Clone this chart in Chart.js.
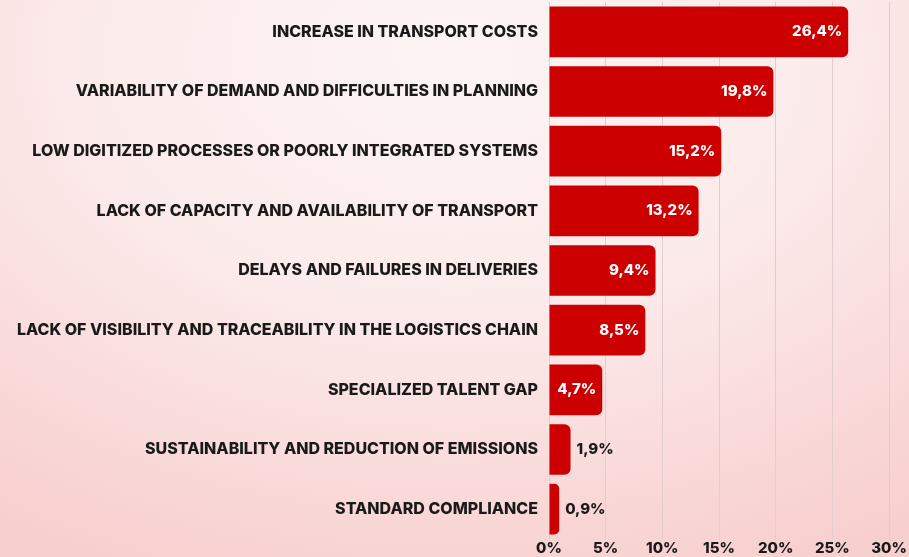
<!DOCTYPE html>
<html>
<head>
<meta charset="utf-8">
<script src="https://cdn.jsdelivr.net/npm/chart.js@4"></script>
<style>
  html, body { margin: 0; padding: 0; }
  body {
    width: 909px; height: 557px; overflow: hidden;
    background: radial-gradient(ellipse 90% 100% at 50% 10%, #fdf4f4 0%, #fcebeb 45%, #f9d6d6 85%, #f8cfcf 100%);
  }
  #wrap { width: 909px; height: 557px; position: relative; }
</style>
</head>
<body>
<div id="wrap"><canvas id="myChart"></canvas></div>
<script>
const categories = [
  'INCREASE IN TRANSPORT COSTS',
  'VARIABILITY OF DEMAND AND DIFFICULTIES IN PLANNING',
  'LOW DIGITIZED PROCESSES OR POORLY INTEGRATED SYSTEMS',
  'LACK OF CAPACITY AND AVAILABILITY OF TRANSPORT',
  'DELAYS AND FAILURES IN DELIVERIES',
  'LACK OF VISIBILITY AND TRACEABILITY IN THE LOGISTICS CHAIN',
  'SPECIALIZED TALENT GAP',
  'SUSTAINABILITY AND REDUCTION OF EMISSIONS',
  'STANDARD COMPLIANCE'
];
const shares = [26.4, 19.8, 15.2, 13.2, 9.4, 8.5, 4.7, 1.9, 0.9];
const xTicks = [0, 5, 10, 15, 20, 25, 30];

const fontFamily = 'Inter, "Open Sans", sans-serif';

// value labels: white inside long bars, dark beside short ones
const barLabels = {
  id: 'barLabels',
  afterDatasetsDraw(chart) {
    const ctx = chart.ctx;
    const meta = chart.getDatasetMeta(0);
    ctx.save();
    ctx.font = '800 15px ' + fontFamily;
    ctx.textBaseline = 'middle';
    meta.data.forEach((bar, i) => {
      const v = shares[i];
      const txt = v.toFixed(1).replace('.', ',') + '%';
      if (v >= 4) {
        ctx.fillStyle = '#ffffff';
        ctx.textAlign = 'right';
        ctx.fillText(txt, bar.x - 6, bar.y);
      } else {
        ctx.fillStyle = '#1a1a1a';
        ctx.textAlign = 'left';
        ctx.fillText(txt, bar.x + 6, bar.y);
      }
    });
    ctx.restore();
  }
};

const GraphShares = document.getElementById('myChart');
new Chart(GraphShares, {
  type: 'bar',
  data: {
    labels: categories,
    datasets: [{
      data: shares,
      backgroundColor: '#cc0000',
      borderRadius: 6,
      barPercentage: 0.85,
      categoryPercentage: 1
    }]
  },
  options: {
    indexAxis: 'y',
    responsive: true,
    maintainAspectRatio: false,
    animation: false,
    layout: { padding: { top: 2, right: 20, bottom: 0, left: 0 } },
    plugins: {
      legend: { display: false },
      tooltip: { enabled: false }
    },
    scales: {
      x: {
        min: 0,
        max: 30,
        afterBuildTicks: (scale) => { scale.ticks = xTicks.map(v => ({ value: v })); },
        grid: { color: '#e2cdce', lineWidth: 1, drawTicks: false },
        border: { display: false },
        ticks: {
          padding: 0,
          color: '#1a1a1a',
          font: { family: fontFamily, size: 15, weight: '800' },
          callback: (v) => v + '%'
        }
      },
      y: {
        afterFit: (scale) => {
          scale.width = 549;
          scale.paddingTop = 0;
          scale.paddingBottom = 0;
        },
        grid: { display: false, drawTicks: false },
        border: { display: false },
        ticks: {
          padding: 11,
          color: '#1a1a1a',
          font: { family: fontFamily, size: 16, weight: '800' }
        }
      }
    }
  },
  plugins: [barLabels]
});
</script>
</body>
</html>
